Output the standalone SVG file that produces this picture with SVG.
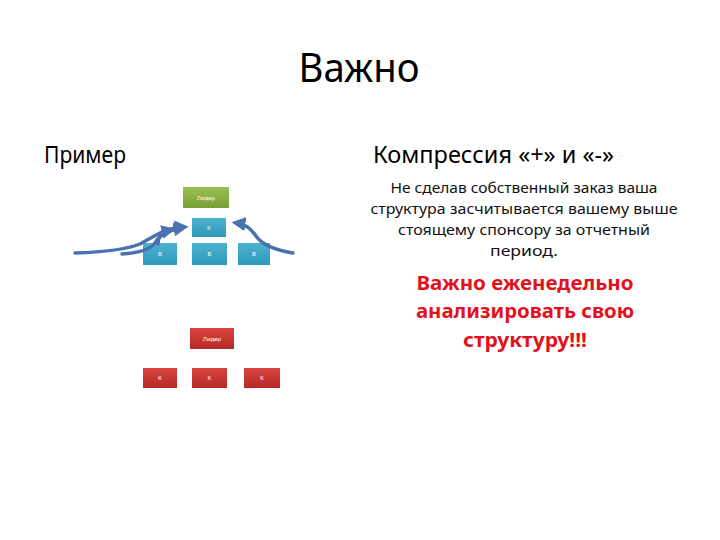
<svg xmlns="http://www.w3.org/2000/svg" width="720" height="540" viewBox="0 0 720 540">
<defs>
<linearGradient id="gGreen" x1="0" y1="0" x2="0" y2="1"><stop offset="0" stop-color="#9dc055"/><stop offset="1" stop-color="#76a032"/></linearGradient>
<linearGradient id="gBlue" x1="0" y1="0" x2="0" y2="1"><stop offset="0" stop-color="#4db3cf"/><stop offset="1" stop-color="#2e98b8"/></linearGradient>
<linearGradient id="gRed" x1="0" y1="0" x2="0" y2="1"><stop offset="0" stop-color="#d8443f"/><stop offset="1" stop-color="#b52a28"/></linearGradient>
<marker id="ah" viewBox="0 0 10 10" refX="6" refY="5" markerWidth="4" markerHeight="4" orient="auto" markerUnits="strokeWidth">
<path d="M0,0 L10,5 L0,10 z" fill="#4a72b0"/>
</marker>
<style>
text{font-family:"Noto Sans","Liberation Sans",sans-serif}
.h{font-size:24px;fill:#000}
.p{font-size:15px;fill:#111;text-anchor:middle}
.r{font-size:19.5px;font-weight:bold;fill:#e3111b;text-anchor:middle}
.lbl{font-size:6px;fill:#fff;text-anchor:middle}
.arr{fill:none;stroke:#4a72b0;stroke-width:3.5;stroke-linecap:round;marker-end:url(#ah)}
</style>
</defs>
<rect width="720" height="540" fill="#fff"/>
<text x="359" y="82" font-size="40" text-anchor="middle" fill="#000" textLength="121" lengthAdjust="spacingAndGlyphs">Важно</text>
<text class="h" x="44" y="163" textLength="82" lengthAdjust="spacingAndGlyphs">Пример</text>
<text class="h" x="373" y="163" textLength="241" lengthAdjust="spacingAndGlyphs">Компрессия «+» и «-»</text>
<g id="desc">
<text class="p" x="524" y="193" textLength="267" lengthAdjust="spacingAndGlyphs">Не сделав собственный заказ ваша</text>
<text class="p" x="524" y="214" textLength="307" lengthAdjust="spacingAndGlyphs">структура засчитывается  вашему выше</text>
<text class="p" x="524" y="235" textLength="252" lengthAdjust="spacingAndGlyphs">стоящему спонсору за отчетный</text>
<text class="p" x="524" y="256" textLength="68" lengthAdjust="spacingAndGlyphs">период.</text>
</g>
<g id="warn">
<text class="r" x="525" y="290" textLength="217" lengthAdjust="spacingAndGlyphs">Важно еженедельно</text>
<text class="r" x="525" y="318" textLength="218" lengthAdjust="spacingAndGlyphs">анализировать свою</text>
<text class="r" x="525" y="347" textLength="124" lengthAdjust="spacingAndGlyphs">структуру!!!</text>
</g>
<g id="g-leader"><rect x="183" y="187" width="46" height="21" fill="url(#gGreen)"/><text class="lbl" x="206" y="199.5">Лидер</text></g>
<g id="b-k"><rect x="192" y="218" width="34" height="19" fill="url(#gBlue)"/><text class="lbl" x="209" y="229.5">К</text></g>
<g id="b-1"><rect x="143" y="243" width="34" height="22" fill="url(#gBlue)"/><text class="lbl" x="160" y="256">В</text></g>
<g id="b-2"><rect x="192" y="243" width="35" height="22" fill="url(#gBlue)"/><text class="lbl" x="209.5" y="256">В</text></g>
<g id="b-3"><rect x="238" y="243" width="32" height="22" fill="url(#gBlue)"/><text class="lbl" x="254" y="256">В</text></g>
<g id="r-leader"><rect x="190" y="328" width="44" height="21" fill="url(#gRed)"/><text class="lbl" x="212" y="340.5">Лидер</text></g>
<g id="r-1"><rect x="143" y="368" width="34" height="20" fill="url(#gRed)"/><text class="lbl" x="160" y="380">К</text></g>
<g id="r-2"><rect x="192" y="368" width="35" height="20" fill="url(#gRed)"/><text class="lbl" x="209.5" y="380">К</text></g>
<g id="r-3"><rect x="244" y="368" width="36" height="20" fill="url(#gRed)"/><text class="lbl" x="262" y="380">К</text></g>
<g id="connectors">
<path class="arr" d="M75,253 C105,252 125,250 140,244 C155,236 165,228 183,227"/>
<path class="arr" d="M122,254 C138,253 150,250 155,243 C159,236 165,231 182,228"/>
<path class="arr" d="M158,244 C158,236 162,232 170,230"/>
<path class="arr" d="M293,253 C275,250 262,245 256,236 C250,227 244,224 237,223"/>
</g>
</svg>
